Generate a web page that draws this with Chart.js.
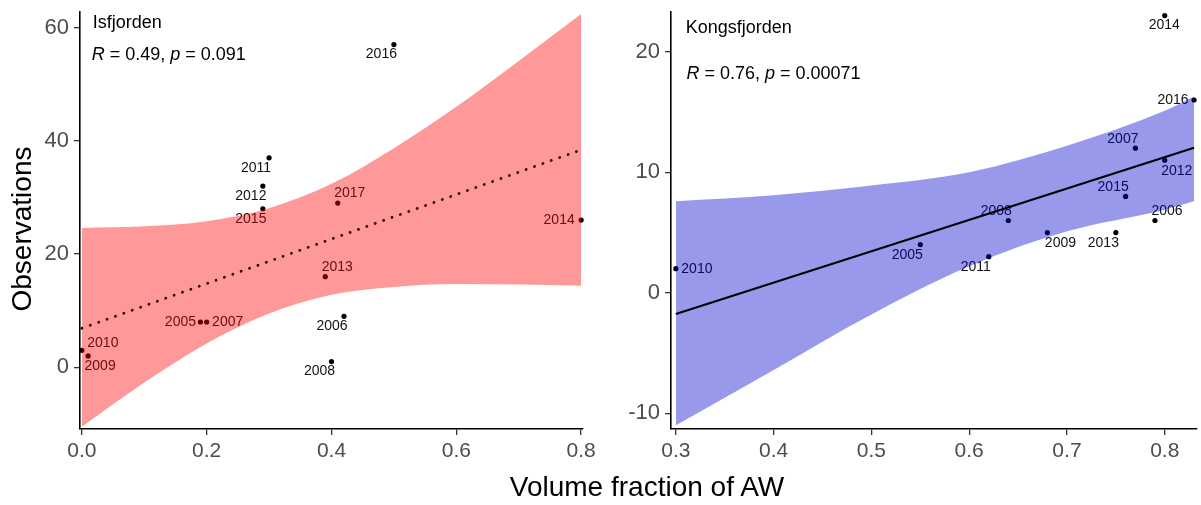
<!DOCTYPE html>
<html>
<head>
<meta charset="utf-8">
<script src="https://cdn.jsdelivr.net/npm/chart.js@4.4.1/dist/chart.umd.min.js"></script>
<style>
  body { margin: 0; background: #fff; }
  #wrap { position: relative; width: 1201px; height: 505px; overflow: hidden; }
  canvas { position: absolute; top: 0; }
  #left { left: 0; }
  #right { left: 600px; }
  #xtitle {
    position: absolute; left: 447px; width: 400px; top: 471px;
    text-align: center; line-height: 34px; color: #000;
    font: 28px 'Liberation Sans', Arial, sans-serif;
  }
</style>
</head>
<body>
<div id="wrap">
  <canvas id="left" width="600" height="505"></canvas>
  <canvas id="right" width="601" height="505"></canvas>
  <div id="xtitle">Volume fraction of AW</div>
</div>
<script>
const FONT = "'Liberation Sans', Arial, sans-serif";
Chart.defaults.font.family = FONT;

// Isfjorden
const isYears = [2005, 2006, 2007, 2008, 2009, 2010, 2011, 2012, 2013, 2014, 2015, 2016, 2017];
const isAW    = [0.19, 0.42, 0.20, 0.40, 0.01, 0.00, 0.30, 0.29, 0.39, 0.80, 0.29, 0.50, 0.41];
const isObs   = [8, 9, 8, 1, 2, 3, 37, 32, 16, 26, 28, 57, 29];
const isBandAW = [0, 0.1, 0.2, 0.3, 0.4, 0.5, 0.6, 0.7, 0.8];
const isBandHi = [24.6, 24.9, 25.8, 28.1, 32.4, 38.7, 46.0, 54.1, 62.4];
const isBandLo = [-10.5, -2.7, 4.2, 9.5, 12.8, 14.2, 14.7, 14.6, 14.4];
const isFitAW  = [0, 0.8];
const isFitObs = [6.9, 38.4];
const isXTicks = [0, 0.2, 0.4, 0.6, 0.8];
const isYTicks = [0, 20, 40, 60];

// Kongsfjorden
const kgYears = [2005, 2006, 2007, 2008, 2009, 2010, 2011, 2012, 2013, 2014, 2015, 2016];
const kgAW    = [0.55, 0.79, 0.77, 0.64, 0.68, 0.30, 0.62, 0.80, 0.75, 0.80, 0.76, 0.83];
const kgObs   = [4, 6, 12, 6, 5, 2, 3, 11, 5, 23, 8, 16];
const kgBandAW = [0.3, 0.4, 0.5, 0.6, 0.7, 0.8, 0.83];
const kgBandHi = [7.6, 8.1, 8.9, 10.0, 12.2, 15.1, 16.3];
const kgBandLo = [-11.0, -6.4, -1.8, 2.2, 5.1, 6.9, 7.6];
const kgFitAW  = [0.3, 0.83];
const kgFitObs = [-1.76, 12.04];
const kgXTicks = [0.3, 0.4, 0.5, 0.6, 0.7, 0.8];
const kgYTicks = [-10, 0, 10, 20];

// where each year label sits relative to its point (px)
const isLabelPos = {
  2005: [-20, 0], 2006: [-12, 10], 2007: [21, 0], 2008: [-12, 10],
  2009: [12, 10.5], 2010: [21, -7], 2011: [-13, 10], 2012: [-12, 10.5],
  2013: [12, -10], 2014: [-22, 0.5], 2015: [-12, 10.5], 2016: [-12.5, 10], 2017: [12, -10]
};
const kgLabelPos = {
  2005: [-13, 10.5], 2006: [12, -9], 2007: [-12.5, -9.5], 2008: [-12, -9],
  2009: [13, 10.5], 2010: [21, 0], 2011: [-13, 10.5], 2012: [12, 10.5],
  2013: [-12.5, 10.5], 2014: [-0.5, 10], 2015: [-12.5, -9.5], 2016: [-21, 0.5]
};

function pts(xs, ys) {
  return xs.map((x, i) => ({ x: x, y: ys[i] }));
}

function drawRich(ctx, x, y, parts, size) {
  let cx = x;
  parts.forEach(p => {
    ctx.font = (p[1] ? "italic " : "") + size + "px " + FONT;
    ctx.fillText(p[0], cx, y);
    cx += ctx.measureText(p[0]).width;
  });
}

function makePanel(id, p) {
  const labelPlugin = {
    id: "yearLabels",
    beforeDatasetsDraw(chart) {
      const meta = chart.getDatasetMeta(3);
      const ctx = chart.ctx;
      ctx.save();
      ctx.font = "14px " + FONT;
      ctx.fillStyle = "#111";
      ctx.textAlign = "center";
      ctx.textBaseline = "middle";
      meta.data.forEach((el, i) => {
        const yr = p.years[i];
        const off = p.labelPos[yr];
        ctx.fillText(String(yr), el.x + off[0], el.y + off[1]);
      });
      ctx.restore();
    }
  };

  const notePlugin = {
    id: "notes",
    afterDraw(chart) {
      const ctx = chart.ctx;
      const a = chart.chartArea;
      ctx.save();
      ctx.fillStyle = "#000";
      ctx.textAlign = "left";
      ctx.textBaseline = "middle";
      ctx.font = "18px " + FONT;
      ctx.fillText(p.name, a.left + p.namePos[0], a.top + p.namePos[1]);
      drawRich(ctx, a.left + p.statPos[0], a.top + p.statPos[1],
        [["R", true], [" = " + p.r + ", ", false], ["p", true], [" = " + p.p, false]], 18);
      if (p.yTitle) {
        ctx.translate(23, 229);
        ctx.rotate(-Math.PI / 2);
        ctx.textAlign = "center";
        ctx.font = "28px " + FONT;
        ctx.fillText(p.yTitle, 0, 0);
      }
      ctx.restore();
    }
  };

  new Chart(document.getElementById(id), {
    type: "scatter",
    data: {
      datasets: [
        {
          data: pts(p.fitX, p.fitY), showLine: true,
          borderColor: p.lineColor, borderWidth: p.lineWidth, borderDash: p.dash,
          borderCapStyle: p.cap, pointRadius: 0, fill: false
        },
        {
          data: pts(p.bandX, p.bandHi), showLine: true,
          borderColor: "rgba(0,0,0,0)", borderWidth: 0, pointRadius: 0,
          fill: "+1", backgroundColor: p.band, cubicInterpolationMode: "monotone"
        },
        {
          data: pts(p.bandX, p.bandLo), showLine: true,
          borderColor: "rgba(0,0,0,0)", borderWidth: 0, pointRadius: 0,
          fill: false, cubicInterpolationMode: "monotone"
        },
        {
          data: pts(p.x, p.y), pointRadius: 2.6,
          pointBackgroundColor: "#000", pointBorderWidth: 0, clip: false
        }
      ]
    },
    options: {
      responsive: false,
      animation: false,
      events: [],
      layout: { padding: { left: 0, top: 12, right: p.padRight, bottom: 0 } },
      plugins: { legend: { display: false }, tooltip: { enabled: false } },
      scales: {
        x: {
          type: "linear", min: p.xMin, max: p.xMax,
          afterBuildTicks: s => { s.ticks = p.xTicks.map(v => ({ value: v })); },
          afterFit: s => { s.height = 76; s.paddingLeft = 0; s.paddingRight = 0; },
          ticks: {
            callback: v => v.toFixed(1), color: "#4D4D4D",
            font: { size: 21 }, padding: 4, maxRotation: 0, autoSkip: false
          },
          grid: { drawOnChartArea: false, drawTicks: true, tickLength: 6, color: "#333", lineWidth: 1.3 },
          border: { display: true, color: "#000", width: 1.6 }
        },
        y: {
          type: "linear", min: p.yMin, max: p.yMax,
          afterBuildTicks: s => { s.ticks = p.yTicks.map(v => ({ value: v })); },
          afterFit: s => { s.width = p.yWidth; s.paddingTop = 0; s.paddingBottom = 0; },
          ticks: { callback: v => String(v), color: "#4D4D4D", font: { size: 22 }, padding: 5, autoSkip: false },
          grid: { drawOnChartArea: false, drawTicks: true, tickLength: 6, color: "#333", lineWidth: 1.3 },
          border: { display: true, color: "#000", width: 1.6 }
        }
      }
    },
    plugins: [labelPlugin, notePlugin]
  });
}

makePanel("left", {
  years: isYears, x: isAW, y: isObs, labelPos: isLabelPos,
  bandX: isBandAW, bandHi: isBandHi, bandLo: isBandLo,
  fitX: isFitAW, fitY: isFitObs,
  lineColor: "#2a0505", lineWidth: 2.8, dash: [0.1, 8.8], cap: "round",
  band: "rgba(255,0,0,0.4)",
  xTicks: isXTicks, yTicks: isYTicks,
  xMin: -0.003, xMax: 0.803, yMin: -10.9, yMax: 62.75,
  yWidth: 80, padRight: 17,
  name: "Isfjorden", r: "0.49", p: "0.091",
  namePos: [12.7, 10.7], statPos: [11.7, 43],
  yTitle: "Observations"
});

makePanel("right", {
  years: kgYears, x: kgAW, y: kgObs, labelPos: kgLabelPos,
  bandX: kgBandAW, bandHi: kgBandHi, bandLo: kgBandLo,
  fitX: kgFitAW, fitY: kgFitObs,
  lineColor: "#000", lineWidth: 2.2, dash: [], cap: "butt",
  band: "rgba(0,0,205,0.4)",
  xTicks: kgXTicks, yTicks: kgYTicks,
  xMin: 0.295, xMax: 0.833, yMin: -11.3, yMax: 23.3,
  yWidth: 71, padRight: 0,
  name: "Kongsfjorden", r: "0.76", p: "0.00071",
  namePos: [14.7, 16.3], statPos: [15.4, 62]
});
</script>
</body>
</html>
